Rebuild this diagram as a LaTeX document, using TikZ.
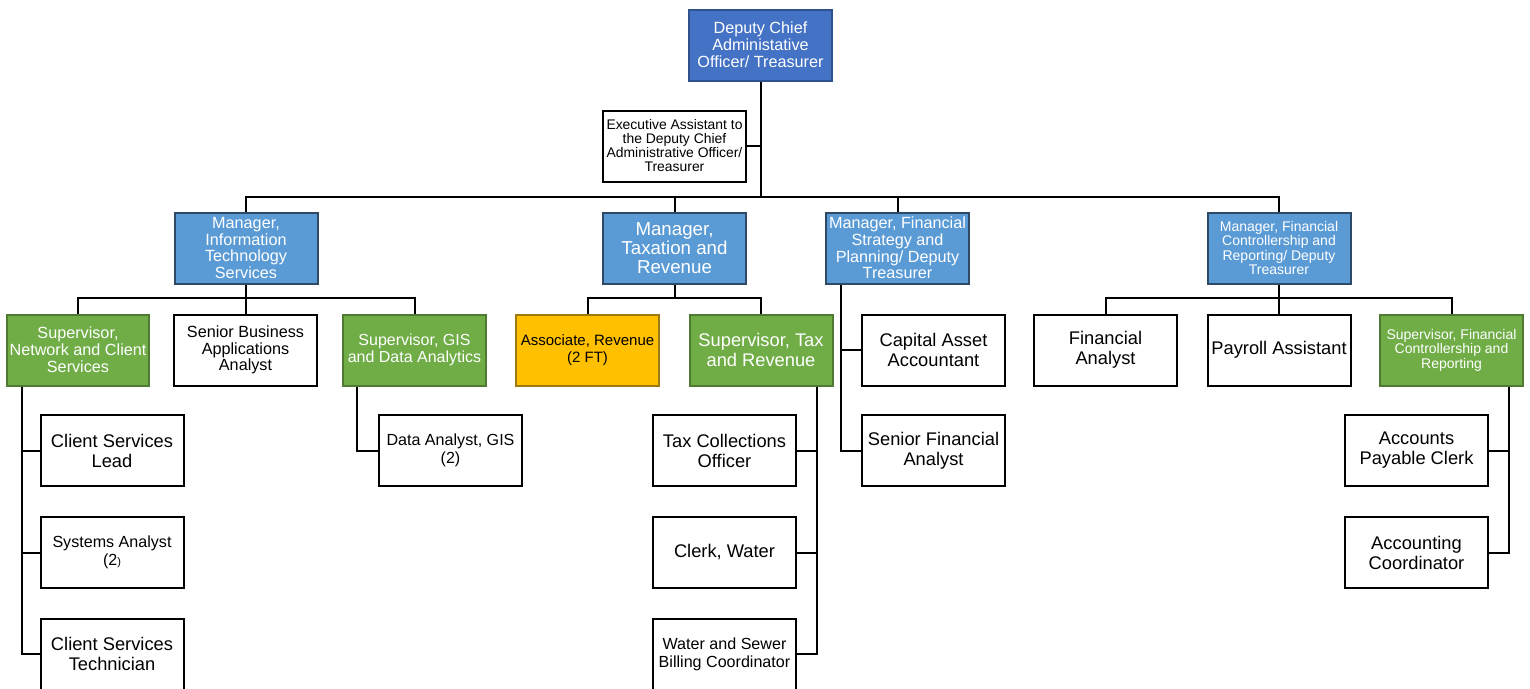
\documentclass[tikz,border=0pt]{standalone}
\usepackage{fontspec}
\setmainfont{Liberation Sans}
\usetikzlibrary{positioning,calc}
\definecolor{chiefblue}{HTML}{4472C4}
\definecolor{chiefline}{HTML}{2F528F}
\definecolor{mgrblue}{HTML}{5B9BD5}
\definecolor{mgrline}{HTML}{2E4A66}
\definecolor{supgreen}{HTML}{70AD47}
\definecolor{supline}{HTML}{4E7A31}
\definecolor{assocgold}{HTML}{FFC000}
\definecolor{assocline}{HTML}{9C7A10}
\tikzset{every picture/.style={line width=2pt}}
\tikzset{
    box/.style={draw=black, line width=2pt, fill=white, minimum width=143pt, minimum height=71pt,
        inner sep=0pt, align=center, font=\fontsize{18.3pt}{20pt}\selectfont},
    midtext/.style={font=\fontsize{16.2pt}{16.8pt}\selectfont},
    loosetext/.style={font=\fontsize{16.1pt}{18.2pt}\selectfont},
    smalltext/.style={font=\fontsize{14pt}{14.4pt}\selectfont},
    chief/.style={box, fill=chiefblue, draw=chiefline, text=white},
    mgr/.style={box, fill=mgrblue, draw=mgrline, text=white},
    sup/.style={box, fill=supgreen, draw=supline, text=white},
    assocbox/.style={box, fill=assocgold, draw=assocline, text=black}
}

\begin{document}
\begin{tikzpicture}[x=1pt,y=-1pt]
    \useasboundingbox (0,0) rectangle (1530,688);
    \clip (0,0) rectangle (1530,688);

    % Top of the chart
    \node[chief,midtext] (top) at (760.5,45) {Deputy Chief\\Administative\\Officer/ Treasurer};
    \node[box,font=\fontsize{13.9pt}{14pt}\selectfont] (exec) at (674.5,146)
        {Executive Assistant to\\the Deputy Chief\\Administrative Officer/\\Treasurer};

    % Managers
    \node[mgr,midtext] (mIT) at (246,248) {Manager,\\Information\\Technology\\Services};
    \node[mgr,font=\fontsize{18.7pt}{19pt}\selectfont] (mTax) at (674.5,248) {Manager,\\Taxation and\\Revenue};
    \node[mgr,midtext] (mStrat) at (897.5,248) {Manager, Financial\\Strategy and\\Planning/ Deputy\\Treasurer};
    \node[mgr,smalltext] (mCtrl) at (1279,248) {Manager, Financial\\Controllership and\\Reporting/ Deputy\\Treasurer};

    % Second row
    \node[sup,midtext,minimum width=142pt] (sNet) at (78,350) {Supervisor,\\Network and Client\\Services};
    \node[box,midtext] (sBus) at (245.5,350) {Senior Business\\Applications\\Analyst};
    \node[sup,font=\fontsize{16pt}{17.7pt}\selectfont] (sGis) at (414.5,350) {Supervisor, GIS\\and Data Analytics};
    \node[assocbox,font=\fontsize{15pt}{16.7pt}\selectfont] (assoc) at (587.5,350) {Associate, Revenue\\(2 FT)};
    \node[sup] (sTax) at (761,350) {Supervisor, Tax\\and Revenue};
    \node[box] (capAcc) at (933.5,350) {Capital Asset\\Accountant};
    \node[box] (finAn) at (1105.5,350) {Financial\\Analyst};
    \node[box] (payroll) at (1279,350) {Payroll Assistant};
    \node[sup,smalltext] (sCtrl) at (1451.5,350) {Supervisor, Financial\\Controllership and\\Reporting};

    % Third row
    \node[box] (csLead) at (112,450.5) {Client Services\\Lead};
    \node[box,loosetext] (sysAn) at (112,552.5) {Systems Analyst\\(2{\fontsize{11pt}{11pt}\selectfont)}};
    \node[box] (csTech) at (112,654) {Client Services\\Technician};
    \node[box,loosetext] (dataAn) at (450.5,450.5) {Data Analyst, GIS\\(2)};
    \node[box] (taxCol) at (724.5,450.5) {Tax Collections\\Officer};
    \node[box] (clerk) at (724.5,552.5) {Clerk, Water};
    \node[box,loosetext] (wsBill) at (724.5,654) {Water and Sewer\\Billing Coordinator};
    \node[box] (srFin) at (933.5,450.5) {Senior Financial\\Analyst};
    \node[box] (apClerk) at (1416.5,450.5) {Accounts\\Payable Clerk};
    \node[box] (accCo) at (1416.5,552.5) {Accounting\\Coordinator};

    % Bus lines
    \coordinate (busTop) at (760.5,197);
    \coordinate (busIT) at (246,298);
    \coordinate (busTax) at (674.5,298);
    \coordinate (busCtrl) at (1279,298);

    \draw (top.south) -- (busTop);
    \draw (exec.east) -- (exec.east -| busTop);
    \foreach \m in {mIT,mTax,mStrat,mCtrl} {
        \draw (busTop) -| (\m.north);
    }
    \draw (mIT.south) -- (busIT);
    \foreach \m in {sNet,sBus,sGis} {
        \draw (busIT) -| (\m.north);
    }
    \draw (mTax.south) -- (busTax);
    \foreach \m in {assoc,sTax} {
        \draw (busTax) -| (\m.north);
    }
    \draw (mCtrl.south) -- (busCtrl);
    \foreach \m in {finAn,payroll,sCtrl} {
        \draw (busCtrl) -| (\m.north);
    }

    % Side lines
    \foreach \c in {csLead,sysAn,csTech} {
        \draw ([xshift=-56.5pt]sNet.south) |- (\c.west);
    }
    \draw ([xshift=-57.5pt]sGis.south) |- (dataAn.west);
    \foreach \c in {taxCol,clerk,wsBill} {
        \draw ([xshift=56pt]sTax.south) |- (\c.east);
    }
    \foreach \c in {capAcc,srFin} {
        \draw ([xshift=-56.5pt]mStrat.south) |- (\c.west);
    }
    \foreach \c in {apClerk,accCo} {
        \draw ([xshift=57.5pt]sCtrl.south) |- (\c.east);
    }
\end{tikzpicture}
\end{document}
